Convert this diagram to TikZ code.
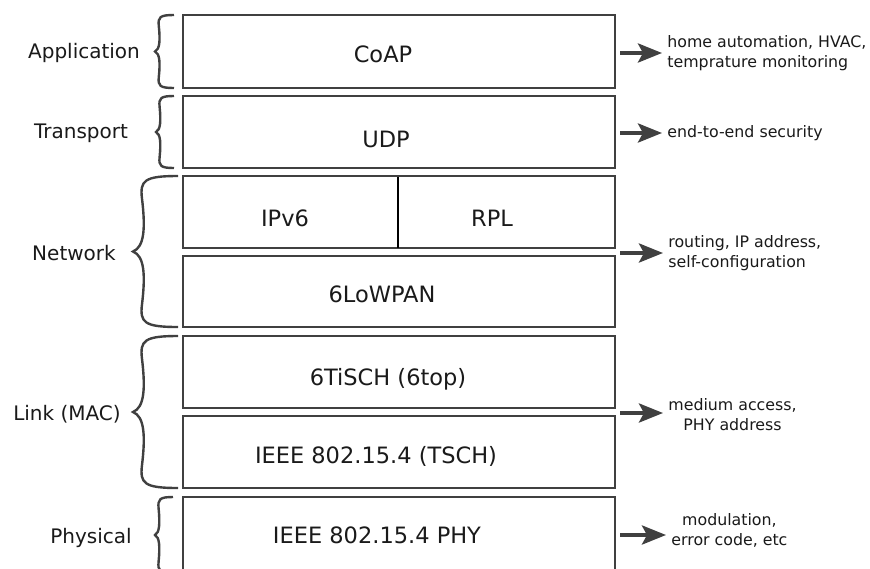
\documentclass[tikz,border=0pt]{standalone}
\usepackage{fontspec}
\setmainfont{DejaVu Sans}
\usetikzlibrary{arrows.meta}
\definecolor{ink}{HTML}{404040}
\definecolor{txt}{HTML}{1A1A1A}
\tikzset{
  layerbox/.style={draw=ink, line width=1.3pt},
  divider/.style={draw=black, line width=1pt},
  boxtext/.style={font=\fontsize{11.25}{13.5}\selectfont, text=txt, anchor=base, inner sep=0pt},
  layername/.style={font=\fontsize{10}{12}\selectfont, text=txt, anchor=base, inner sep=0pt},
  note/.style={font=\fontsize{7.9}{10}\selectfont, text=txt, anchor=west, inner sep=1pt},
  brc/.style={draw=ink, line width=1.2pt},
  feature/.style={draw=ink, line width=2pt,
    -{Stealth[length=12pt,width=9.5pt,inset=2.5pt]}, shorten >=1.5pt},
}
% curly brace: right x, top y, bottom y, amplitude (tip points left)
\newcommand\layerbrace[4]{%
  \begin{scope}[shift={(#1,#2)}, xscale=-#4, yscale={(#3)-(#2)}]
    \draw[brc] (0,0) .. controls (0.75,0) and (0.85,0.03) .. (0.8,0.15)
      .. controls (0.72,0.35) and (0.75,0.47) .. (1,0.5)
      .. controls (0.75,0.53) and (0.72,0.65) .. (0.8,0.85)
      .. controls (0.85,0.97) and (0.75,1) .. (0,1);
  \end{scope}}
\begin{document}
\begin{tikzpicture}[x=0.5pt, y=-0.5pt]
  \useasboundingbox (0,0) rectangle (870,568);
  \fill[white] (0,0) rectangle (870,568);
  \clip (0,0) rectangle (870,568);

  % protocol stack
  \draw[layerbox] (183,15)  rectangle (615,88);
  \draw[layerbox] (183,96)  rectangle (615,168);
  \draw[layerbox] (183,176) rectangle (615,248);
  \draw[divider]  (398,177) -- (398,248);
  \draw[layerbox] (183,256) rectangle (615,327);
  \draw[layerbox] (183,336) rectangle (615,408);
  \draw[layerbox] (183,416) rectangle (615,488);
  \draw[layerbox] (183,497) rectangle (615,572);

  \node[boxtext] (coap)   at (383,62)  {CoAP};
  \node[boxtext] (udp)    at (386,147) {UDP};
  \node[boxtext] (ipv6)   at (285,226) {IPv6};
  \node[boxtext] (rpl)    at (492,226) {RPL};
  \node[boxtext] (lowpan) at (382,302) {6LoWPAN};
  \node[boxtext] (tisch)  at (388,385) {6TiSCH (6top)};
  \node[boxtext] (tsch)   at (376,463) {IEEE 802.15.4 (TSCH)};
  \node[boxtext] (phy)    at (377,543) {IEEE 802.15.4 PHY};

  % layer names and braces
  \node[layername] (lapp)  at (84,58)  {Application};
  \node[layername] (ltrn)  at (81,138) {Transport};
  \node[layername] (lnet)  at (74,260) {Network};
  \node[layername] (llink) at (67,420) {Link (MAC)};
  \node[layername] (lphy)  at (91,543) {Physical};

  \layerbrace{174}{15}{88}{19}
  \layerbrace{174}{96}{168}{18}
  \layerbrace{178}{176}{327}{45}
  \layerbrace{178}{336}{488}{45}
  \layerbrace{173}{497}{573}{18}

  % roles of each layer
  \node[note, align=left]   (napp)  at (665,53)  {home automation, HVAC,\\temprature monitoring};
  \node[note]               (ntrn)  at (665,133) {end-to-end security};
  \node[note, align=left]   (nnet)  at (666,253) {routing, IP address,\\self-configuration};
  \node[note, align=center] (nlink) at (666,415) {medium access,\\PHY address};
  \node[note, align=center] (nphy)  at (669,530) {modulation,\\error code, etc};

  \coordinate (aapp)  at (620,53);
  \coordinate (atrn)  at (620,133);
  \coordinate (anet)  at (620,253);
  \coordinate (alink) at (620,413);
  \coordinate (aphy)  at (620,535);

  \draw[feature] (aapp)  -- (aapp  -| napp.west);
  \draw[feature] (atrn)  -- (atrn  -| ntrn.west);
  \draw[feature] (anet)  -- (anet  -| nnet.west);
  \draw[feature] (alink) -- (alink -| nlink.west);
  \draw[feature] (aphy)  -- (aphy  -| nphy.west);
\end{tikzpicture}
\end{document}
